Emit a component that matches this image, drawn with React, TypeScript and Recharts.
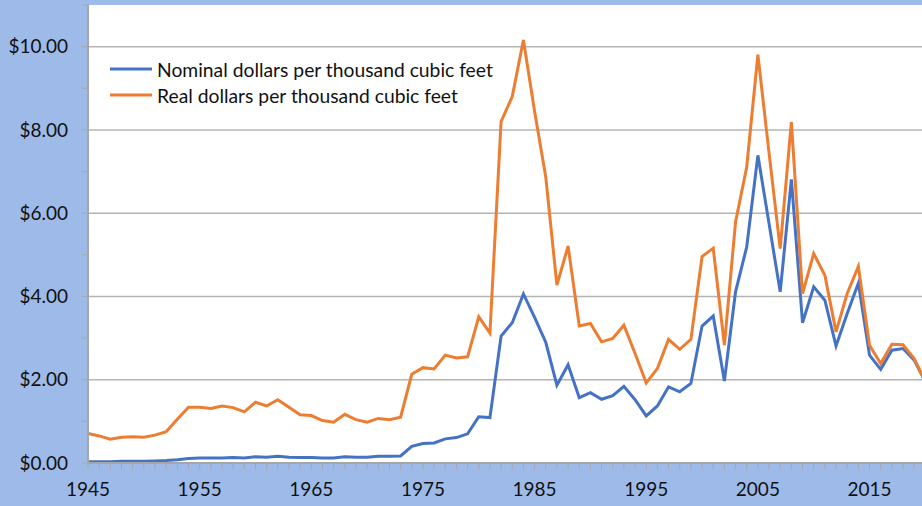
import React from "react"
import { LineChart, Line, XAxis, YAxis, CartesianGrid, Legend } from "recharts"

const years = Array.from({ length: 76 }, (_, i) => 1945 + i)

// nominal dollars per thousand cubic feet, 1945-2020
const nominal = [
  0.03, 0.03, 0.03, 0.04, 0.04, 0.04, 0.05, 0.06, 0.08, 0.11,
  0.12, 0.12, 0.12, 0.13, 0.12, 0.15, 0.14, 0.16, 0.14, 0.13,
  0.13, 0.12, 0.12, 0.15, 0.14, 0.14, 0.16, 0.16, 0.17, 0.4,
  0.47, 0.48, 0.58, 0.61, 0.7, 1.11, 1.09, 3.05, 3.37, 4.06,
  3.5, 2.9, 1.87, 2.36, 1.57, 1.69, 1.53, 1.62, 1.84, 1.52,
  1.13, 1.37, 1.83, 1.71, 1.91, 3.29, 3.53, 1.97, 4.11, 5.19,
  7.39, 5.75, 4.11, 6.81, 3.37, 4.23, 3.91, 2.81, 3.59, 4.32,
  2.59, 2.25, 2.71, 2.75, 2.47, 1.95,
]

// real dollars per thousand cubic feet, 1945-2020
const real = [
  0.71, 0.65, 0.57, 0.62, 0.63, 0.62, 0.67, 0.75, 1.05, 1.34,
  1.34, 1.31, 1.37, 1.33, 1.23, 1.46, 1.37, 1.52, 1.34, 1.16,
  1.14, 1.02, 0.98, 1.17, 1.04, 0.98, 1.07, 1.04, 1.1, 2.13,
  2.29, 2.26, 2.59, 2.52, 2.55, 3.51, 3.12, 8.2, 8.8, 10.16,
  8.45, 6.87, 4.27, 5.21, 3.29, 3.35, 2.91, 2.99, 3.31, 2.63,
  1.92, 2.27, 2.97, 2.73, 2.97, 4.96, 5.16, 2.83, 5.79, 7.11,
  9.81, 7.45, 5.15, 8.19, 4.07, 5.03, 4.51, 3.15, 4.07, 4.72,
  2.83, 2.39, 2.85, 2.84, 2.51, 1.95,
]

const xTicks = years.filter((y) => y < 2020)
const yTicks = [0, 1, 2, 3, 4, 5, 6, 7, 8, 9, 10, 11]
const gridValues = [2, 4, 6, 8, 10]

const seriesNames = {
  nominal: "Nominal dollars per thousand cubic feet",
  real: "Real dollars per thousand cubic feet",
}

const data = years.map((year, i) => ({ year, nominal: nominal[i], real: real[i] }))

const FONT = "Lato, 'Open Sans', sans-serif"
const BLUE = "#4472C4"
const ORANGE = "#ED7D31"
const AXIS = "#A6A6A6"

const YTick = (props: any) => {
  const { x, y, payload } = props
  if (payload.value % 2 !== 0) return <g />
  return (
    <text x={x} y={y} dy="0.355em" textAnchor="end" fontSize={19} fill="#111" fontFamily={FONT}>
      {`$${payload.value.toFixed(2)}`}
    </text>
  )
}

const XTick = (props: any) => {
  const { x, y, payload } = props
  if ((payload.value - 1945) % 10 !== 0) return <g />
  return (
    <text x={x} y={y} dy="0.71em" textAnchor="middle" fontSize={19} fill="#111" fontFamily={FONT}>
      {payload.value}
    </text>
  )
}

const LegendBox = () => (
  <div style={{ fontFamily: FONT, fontSize: 19.3, color: "#111" }}>
    {[
      { color: BLUE, label: seriesNames.nominal },
      { color: ORANGE, label: seriesNames.real },
    ].map((item) => (
      <div key={item.label} style={{ display: "flex", alignItems: "center", height: 26 }}>
        <svg width={42} height={6} style={{ marginRight: 5 }}>
          <line x1={0} y1={3} x2={42} y2={3} stroke={item.color} strokeWidth={3} />
        </svg>
        <span style={{ whiteSpace: "nowrap" }}>{item.label}</span>
      </div>
    ))}
  </div>
)

export default function App() {
  return (
    <div style={{ position: "absolute", left: 0, top: 0, width: 922, height: 506, background: "#9DBAE9" }}>
      <LineChart width={922} height={506} data={data} margin={{ top: 5, right: 0, bottom: 0, left: 0 }}>
        <CartesianGrid
          vertical={false}
          horizontalValues={gridValues}
          stroke="#B4B4B4"
          strokeWidth={1.5}
          fill="#FFFFFF"
          fillOpacity={1}
        />
        <XAxis
          dataKey="year"
          type="number"
          domain={[1945, 2019.7]}
          allowDataOverflow
          ticks={xTicks}
          interval={0}
          height={43}
          tickSize={6}
          tickMargin={14}
          axisLine={{ stroke: AXIS, strokeWidth: 2 }}
          tickLine={{ stroke: AXIS, strokeWidth: 1 }}
          tick={<XTick />}
        />
        <YAxis
          type="number"
          domain={[0, 11]}
          ticks={yTicks}
          interval={0}
          width={88}
          tickSize={6}
          tickMargin={14}
          axisLine={{ stroke: AXIS, strokeWidth: 2 }}
          tickLine={{ stroke: AXIS, strokeWidth: 1 }}
          tick={<YTick />}
        />
        <Legend
          layout="vertical"
          align="center"
          verticalAlign="middle"
          content={<LegendBox />}
          wrapperStyle={{ left: 110, top: 56, width: "auto" }}
        />
        <Line
          type="linear"
          dataKey="nominal"
          name={seriesNames.nominal}
          stroke={BLUE}
          strokeWidth={3}
          dot={false}
          isAnimationActive={false}
        />
        <Line
          type="linear"
          dataKey="real"
          name={seriesNames.real}
          stroke={ORANGE}
          strokeWidth={3}
          dot={false}
          isAnimationActive={false}
        />
      </LineChart>
    </div>
  )
}
